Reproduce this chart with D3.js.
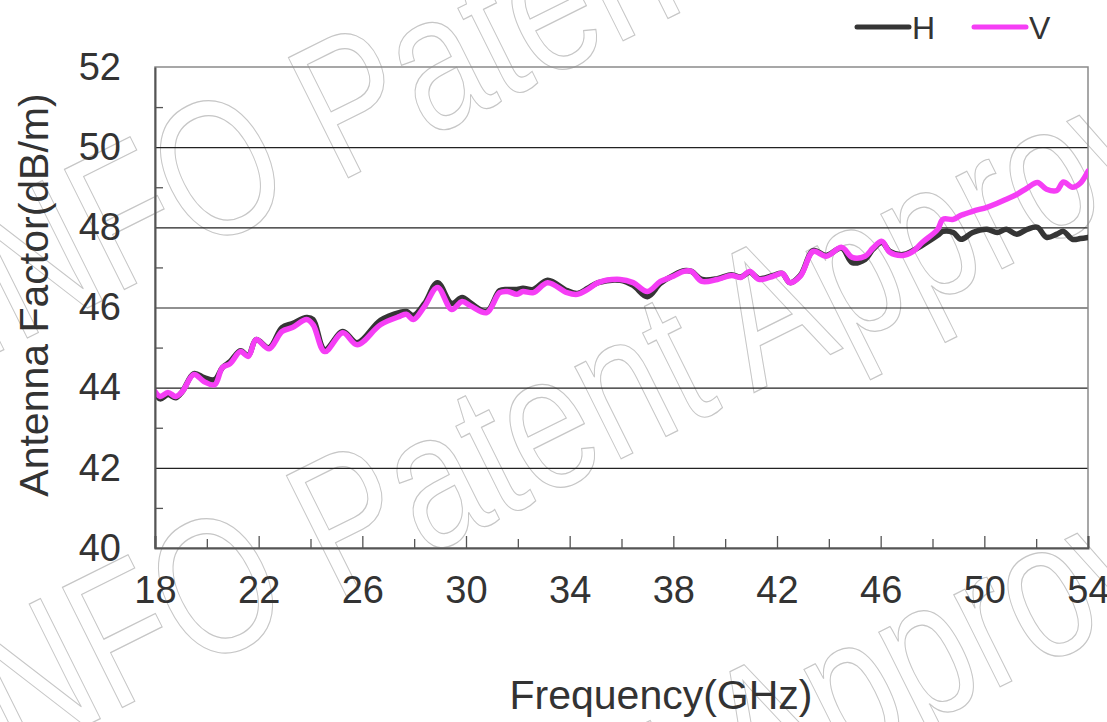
<!DOCTYPE html>
<html>
<head>
<meta charset="utf-8">
<script src="https://cdn.jsdelivr.net/npm/d3@7"></script>
<style>
  body { margin: 0; background: #fff; }
  text { font-family: "Liberation Sans", Arial, sans-serif; fill: #333; }
</style>
</head>
<body>
<div id="chart"></div>
<script>
// Chart values
const freq = [18.0, 18.2, 18.5, 18.8, 19.05, 19.5, 19.9, 20.3, 20.6, 20.9, 21.3, 21.6, 21.9, 22.4, 22.9, 23.3, 23.85, 24.1, 24.55, 25.25,
  25.8, 26.7, 27.45, 27.7, 27.97, 28.4, 28.9, 29.45, 29.85, 30.2, 30.8, 31.3, 31.6, 31.97, 32.2, 32.6, 33.15, 33.9, 34.3, 34.7,
  35.1, 35.95, 36.45, 37.0, 37.5, 38.0, 38.4, 38.7, 39.1, 39.7, 40.25, 40.6, 40.95, 41.3, 41.85, 42.2, 42.5, 42.9, 43.4, 43.9,
  44.5, 44.9, 45.4, 45.7, 46.05, 46.35, 46.85, 47.25, 47.6, 48.2, 48.4, 48.8, 49.1, 49.55, 50.1, 50.5, 50.85, 51.25, 51.65, 52.05,
  52.4, 52.8, 53.05, 53.4, 53.7, 54.0];
const hValues = [43.85, 43.72, 43.83, 43.75, 43.9, 44.35, 44.25, 44.2, 44.5, 44.65, 44.92, 44.8, 45.2, 45.0, 45.5, 45.6, 45.75, 45.7, 44.95, 45.4,
  45.12, 45.68, 45.88, 45.9, 45.8, 46.1, 46.62, 46.1, 46.25, 46.1, 45.9, 46.42, 46.45, 46.45, 46.48, 46.45, 46.68, 46.42, 46.35, 46.48,
  46.62, 46.68, 46.55, 46.27, 46.6, 46.8, 46.92, 46.9, 46.7, 46.72, 46.82, 46.76, 46.88, 46.72, 46.8, 46.85, 46.62, 46.8, 47.42, 47.3,
  47.48, 47.12, 47.2, 47.45, 47.62, 47.4, 47.32, 47.42, 47.55, 47.8, 47.9, 47.87, 47.7, 47.87, 47.95, 47.87, 47.95, 47.83, 47.95, 48.0,
  47.75, 47.83, 47.9, 47.7, 47.72, 47.75];
const vValues = [43.9, 43.78, 43.88, 43.78, 43.9, 44.33, 44.15, 44.07, 44.5, 44.6, 44.9, 44.78, 45.2, 44.97, 45.4, 45.5, 45.7, 45.57, 44.9, 45.37,
  45.07, 45.57, 45.78, 45.83, 45.7, 46.03, 46.5, 45.95, 46.15, 46.03, 45.87, 46.37, 46.4, 46.33, 46.4, 46.37, 46.62, 46.37, 46.33, 46.45,
  46.62, 46.7, 46.62, 46.4, 46.65, 46.78, 46.9, 46.9, 46.65, 46.7, 46.8, 46.75, 46.9, 46.7, 46.78, 46.85, 46.62, 46.78, 47.4, 47.28,
  47.5, 47.25, 47.28, 47.48, 47.65, 47.38, 47.3, 47.4, 47.62, 47.95, 48.2, 48.2, 48.3, 48.4, 48.5, 48.6, 48.7, 48.82, 48.98, 49.12,
  48.95, 48.92, 49.13, 49.0, 49.1, 49.4];
const seriesNames = ["H", "V"];
const xTickLabels = [18, 22, 26, 30, 34, 38, 42, 46, 50, 54];
const xMinorTicks = [20, 24, 28, 32, 36, 40, 44, 48, 52];
const yTickLabels = [40, 42, 44, 46, 48, 50, 52];
const yMinorTicks = [41, 43, 45, 47, 49, 51];
const watermarkText = "INFO Patent Approved";

const width = 1107;
const height = 722;
const margin = { top: 67, right: 19, bottom: 174, left: 155 };
const innerW = width - margin.left - margin.right;
const innerH = height - margin.top - margin.bottom;

const colors = { H: "#353535", V: "#f53ef5" };

const svg = d3.select("#chart").append("svg")
  .attr("width", width)
  .attr("height", height);

// Watermark (outlined text, drawn first so it sits underneath)
[[-21, 362], [-23, 780], [-25, 1198]].forEach(([wx, wy]) => {
  svg.append("text")
    .attr("transform", `translate(${wx},${wy}) rotate(-26.5) scale(0.77,1)`)
    .style("font-size", "195px")
    .style("fill", "none")
    .style("stroke", "#c6c6c6")
    .style("stroke-width", 1.1)
    .style("vector-effect", "non-scaling-stroke")
    .text(watermarkText);
});

const g = svg.append("g")
  .attr("transform", `translate(${margin.left},${margin.top})`);

const x = d3.scaleLinear().domain([18, 54]).range([0, innerW]);
const y = d3.scaleLinear().domain([40, 52]).range([innerH, 0]);

// Horizontal gridlines
g.append("g")
  .attr("class", "grid")
  .call(d3.axisLeft(y).tickValues(yTickLabels.slice(1, -1)).tickSize(-innerW).tickFormat(""))
  .call(s => s.select(".domain").remove())
  .call(s => s.selectAll("line").attr("stroke", "#222").attr("stroke-width", 1.2));

// Plot frame (top and right)
g.append("rect")
  .attr("width", innerW)
  .attr("height", innerH)
  .attr("fill", "none")
  .attr("stroke", "#8a8a8a")
  .attr("stroke-width", 1.5);

// Lines
g.append("clipPath").attr("id", "clip")
  .append("rect").attr("width", innerW).attr("height", innerH);

const line = d3.line()
  .curve(d3.curveCatmullRom.alpha(0.5))
  .x(d => x(d[0]))
  .y(d => y(d[1]));

const seriesData = {
  H: freq.map((f, i) => [f, hValues[i]]),
  V: freq.map((f, i) => [f, vValues[i]])
};

seriesNames.forEach(name => {
  g.append("path")
    .datum(seriesData[name])
    .attr("clip-path", "url(#clip)")
    .attr("d", line)
    .attr("fill", "none")
    .attr("stroke", colors[name])
    .attr("stroke-width", 5.5)
    .attr("stroke-linejoin", "round")
    .attr("stroke-linecap", "round");
});

// X axis: labelled ticks and minor ticks, pointing inward
const xAxis = g.append("g")
  .attr("transform", `translate(0,${innerH})`)
  .call(d3.axisBottom(x).tickValues(xTickLabels).tickSize(-12).tickPadding(28));
g.append("g")
  .attr("transform", `translate(0,${innerH})`)
  .call(d3.axisBottom(x).tickValues(xMinorTicks).tickSize(-9).tickFormat(""))
  .call(s => s.select(".domain").remove());

// Y axis: labels and minor ticks
const yAxis = g.append("g")
  .call(d3.axisLeft(y).tickValues(yTickLabels).tickSize(0).tickPadding(34));
g.append("g")
  .call(d3.axisLeft(y).tickValues(yMinorTicks).tickSize(-8).tickFormat(""))
  .call(s => s.select(".domain").remove());

g.selectAll(".tick line").filter(function () {
  return !this.closest(".grid");
}).attr("stroke", "#555").attr("stroke-width", 1.3);
g.selectAll(".domain").attr("stroke", "#555").attr("stroke-width", 2);
xAxis.selectAll("text").style("font-size", "38px").attr("fill", "#333");
yAxis.selectAll("text").style("font-size", "38px").attr("fill", "#333");

// Axis titles
svg.append("text")
  .attr("x", 661)
  .attr("y", 709)
  .attr("text-anchor", "middle")
  .style("font-size", "41px")
  .text("Frequency(GHz)");

svg.append("text")
  .attr("transform", "translate(48,295) rotate(-90)")
  .attr("text-anchor", "middle")
  .style("font-size", "41px")
  .text("Antenna Factor(dB/m)");

// Legend
const legend = svg.append("g").attr("transform", "translate(857,27)");
seriesNames.forEach((name, i) => {
  const lg = legend.append("g").attr("transform", `translate(${i * 117},0)`);
  lg.append("line")
    .attr("x1", 0).attr("x2", 52)
    .attr("stroke", colors[name])
    .attr("stroke-width", 5)
    .attr("stroke-linecap", "round");
  lg.append("text")
    .attr("x", 55)
    .attr("dy", "0.36em")
    .style("font-size", "32px")
    .text(name);
});
</script>
</body>
</html>
